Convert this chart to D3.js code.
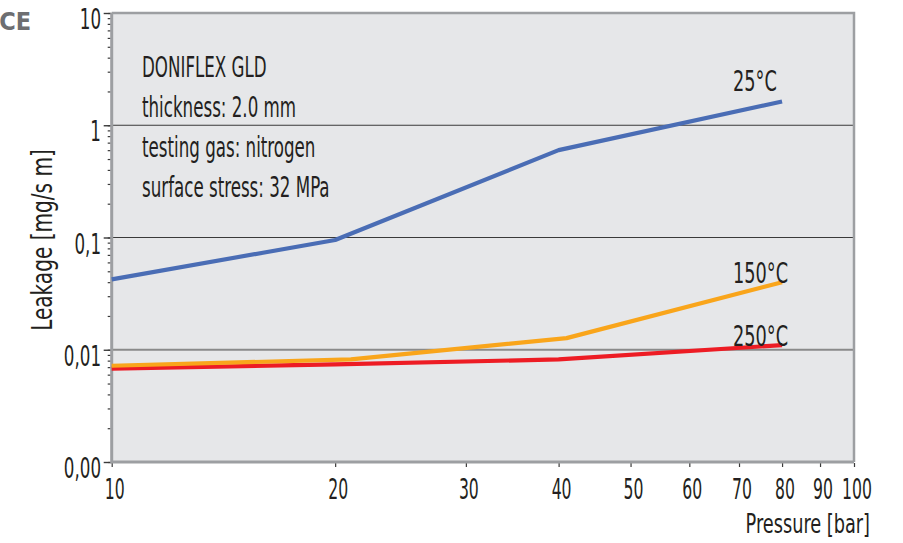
<!DOCTYPE html>
<html><head><meta charset="utf-8">
<script src="https://cdn.jsdelivr.net/npm/d3@7"></script>
<style>
html,body{margin:0;padding:0;background:#fff;}
svg text{font-family:"DejaVu Sans Condensed","DejaVu Sans",sans-serif;fill:#231f20;}
</style></head>
<body><svg id="c" width="903" height="543"></svg>
<script>
// ---- data ----
const xTickValues = [10,20,30,40,50,60,70,80,90,100];
const xTickLabels = ["10","20","30","40","50","60","70","80","90","100"];
const yTickValues = [10,1,0.1,0.01,0.001];
const yTickLabels = ["10","1","0,1","0,01","0,00"];
const gridValues = [1,0.1,0.01];

const p25x = [10,20,40,80];
const p25y = [0.0424,0.095,0.60,1.63];
const p150x = [10,21,41,80];
const p150y = [0.0072,0.0082,0.0127,0.040];
const p250x = [10,20,40,80];
const p250y = [0.0068,0.0074,0.0082,0.0110];
const seriesNames = ["25°C","150°C","250°C"];
const seriesColors = ["#4a6db5","#f9a51b","#ed1c24"];
const infoLines = ["DONIFLEX GLD","thickness: 2.0 mm","testing gas: nitrogen","surface stress: 32 MPa"];

// ---- chart ----
const svg = d3.select("#c");
const L=111.7, R=854, T=13, B=462;
const x = d3.scaleLog().domain([10,100]).range([L,R]);
const y = d3.scaleLog().domain([0.001,10]).range([B,T]);

function txt(g, px, py, s, size, sx, anchor){
  return g.append("text")
    .attr("transform", `translate(${px},${py}) scale(${sx},1)`)
    .attr("font-size", size)
    .attr("text-anchor", anchor||"start")
    .text(s);
}

// cut-off heading
svg.append("text").attr("x",31).attr("y",30).attr("text-anchor","end")
  .attr("font-family","DejaVu Sans, sans-serif").attr("font-weight","bold")
  .attr("font-size",25).style("fill","#6d6e71").text("CE");

// plot background
svg.append("rect").attr("x",L).attr("y",T).attr("width",R-L).attr("height",B-T).attr("fill","#e6e7e9");

// gridlines
svg.append("g").selectAll("line").data(gridValues).join("line")
  .attr("x1",L).attr("x2",R).attr("y1",d=>y(d)).attr("y2",d=>y(d))
  .attr("stroke",d=>d===0.01?"#8a8a8a":"#3a3a3a")
  .attr("stroke-width",d=>d===0.01?2:1.2);

// top/right border
svg.append("path").attr("d",`M${L},${T}H${R}V${B}`).attr("fill","none").attr("stroke","#9d9fa2").attr("stroke-width",2.5);

// minor y ticks
const yMinor = d3.axisLeft(y).tickValues(y.ticks()).tickSize(3).tickFormat("");
const gm = svg.append("g").attr("transform",`translate(${L-1},0)`).call(yMinor);
gm.select(".domain").remove();
gm.selectAll("line").attr("stroke","#3a3a3a").attr("stroke-width",1.2);

// major y ticks
const yMajor = d3.axisLeft(y).tickValues(yTickValues).tickSize(8).tickFormat("");
const gM = svg.append("g").attr("transform",`translate(${L},0)`).call(yMajor);
gM.select(".domain").remove();
gM.selectAll("line").attr("stroke","#3a3a3a").attr("stroke-width",1.4);
const gyl = svg.append("g");
yTickValues.forEach((v,i)=>{
  txt(gyl, 101, y(v)+16, yTickLabels[i], 29, 0.64, "end");
});

// x ticks
const xAx = d3.axisBottom(x).tickValues(xTickValues).tickSize(4).tickFormat("");
const gx = svg.append("g").attr("transform",`translate(0,${B+1})`).call(xAx);
gx.select(".domain").remove();
gx.selectAll("line").attr("stroke","#3a3a3a").attr("stroke-width",1.2);
const gxl = svg.append("g");
xTickValues.forEach((v,i)=>{
  txt(gxl, x(v)+3, 499, xTickLabels[i], 29, 0.6, "middle");
});

// axis lines
svg.append("path").attr("d",`M${L},${T}V${B}H${R}`).attr("fill","none").attr("stroke","#9d9fa2").attr("stroke-width",3);

// series
const line = d3.line().x(d=>x(d[0])).y(d=>y(d[1]));
const series = [[p25x,p25y],[p150x,p150y],[p250x,p250y]];
const gs = svg.append("g");
[2,1,0].forEach(i=>{
  const pts = series[i][0].map((v,j)=>[v,series[i][1][j]]);
  gs.append("path").datum(pts).attr("d",line).attr("fill","none")
    .attr("stroke",seriesColors[i]).attr("stroke-width",4.2).attr("stroke-linejoin","round");
});

// series labels
const labelPos = [[733,91],[733,283],[733,346]];
const gl = svg.append("g");
seriesNames.forEach((n,i)=>{
  txt(gl, labelPos[i][0], labelPos[i][1], n, 29, 0.68, "start");
});

// info text
const gi = svg.append("g");
infoLines.forEach((s,i)=>{
  txt(gi, 142, 77+i*40, s, 29, 0.64, "start");
});

// axis titles
svg.append("text").attr("transform","translate(52,240) rotate(-90) scale(0.77,1)")
  .attr("font-size",29).attr("text-anchor","middle").text("Leakage [mg/s m]");
txt(svg, 870, 533, "Pressure [bar]", 27, 0.73, "end");
</script></body></html>
